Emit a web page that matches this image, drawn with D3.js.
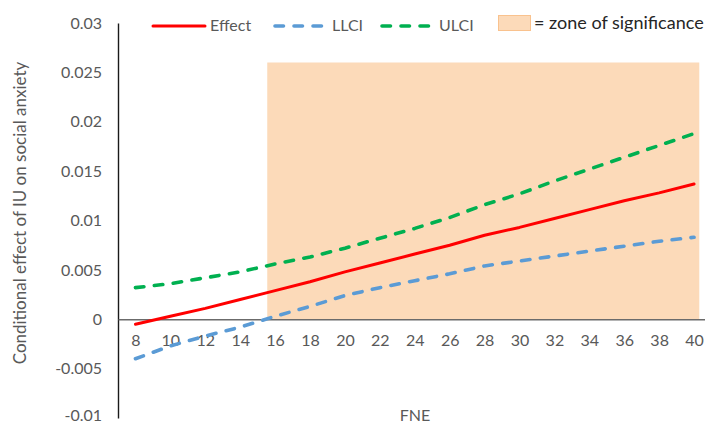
<!DOCTYPE html>
<html>
<head>
<meta charset="utf-8">
<script src="https://cdn.jsdelivr.net/npm/d3@7/dist/d3.min.js"></script>
<style>
  html, body { margin: 0; padding: 0; background: #fff; }
  svg { display: block; font-family: Lato, "Open Sans", sans-serif; }
</style>
</head>
<body>
<svg id="chart" width="705" height="425"></svg>
<script>
// Johnson-Neyman output: conditional effect of IU across FNE
const fne    = [8, 10, 12, 14, 16, 18, 20, 22, 24, 26, 28, 30, 32, 34, 36, 38, 40];
const effect = [-0.0005, 0.0003, 0.0011, 0.0020, 0.0029, 0.0038, 0.0048, 0.0057, 0.0066, 0.0075, 0.0085, 0.0093, 0.0102, 0.0111, 0.0120, 0.0128, 0.0137];
const llci   = [-0.0040, -0.0027, -0.0017, -0.0008, 0.0003, 0.0013, 0.0024, 0.0032, 0.0039, 0.0046, 0.0054, 0.0059, 0.0064, 0.0069, 0.0074, 0.0079, 0.0083];
const ulci   = [0.0032, 0.0036, 0.0042, 0.0048, 0.0056, 0.0063, 0.0072, 0.0082, 0.0092, 0.0103, 0.0116, 0.0127, 0.0140, 0.0152, 0.0164, 0.0176, 0.0188];

// region of significance (LLCI above zero)
const zoneX = [15.55, 40.3];
const zoneY = [0, 0.026];

const yTicks = [0.03, 0.025, 0.02, 0.015, 0.01, 0.005, 0, -0.005, -0.01];
const yTickLabels = ["0.03", "0.025", "0.02", "0.015", "0.01", "0.005", "0", "-0.005", "-0.01"];
const xTicks = [8, 10, 12, 14, 16, 18, 20, 22, 24, 26, 28, 30, 32, 34, 36, 38, 40];

const series = [
  { name: "Effect", values: effect, color: "#ff0000", dash: null, width: 3 },
  { name: "LLCI",   values: llci,   color: "#5b9bd5", dash: "8.5,10.5", width: 3.6 },
  { name: "ULCI",   values: ulci,   color: "#00b050", dash: "8.5,10.5", width: 3.6 }
];

const svg = d3.select("#chart");
const x = d3.scaleLinear().domain([7, 41]).range([118, 711.5]);
const y = d3.scaleLinear().domain([-0.01, 0.03]).range([418, 23]);

const textGray = "#595959";

// shaded zone
svg.append("rect")
  .attr("x", x(zoneX[0]))
  .attr("y", y(zoneY[1]))
  .attr("width", x(zoneX[1]) - x(zoneX[0]))
  .attr("height", y(zoneY[0]) - y(zoneY[1]))
  .attr("fill", "#fcdab9");

// y axis
const yAxis = d3.axisLeft(y)
  .tickValues(yTicks)
  .tickFormat((d, i) => yTickLabels[i])
  .tickSize(0)
  .tickPadding(16);
const gy = svg.append("g").attr("transform", `translate(${x(7)},0)`).call(yAxis);
gy.select(".domain").attr("stroke", "#1a1a1a").attr("stroke-width", 1.4);
gy.selectAll("text").attr("fill", textGray).attr("font-size", 16).attr("font-family", "Lato, sans-serif");
// keep the lowest label inside the canvas
gy.selectAll(".tick").filter(d => d === -0.01).select("text").attr("dy", "0.18em");

// x axis on the zero line
const xAxis = d3.axisBottom(x)
  .tickValues(xTicks)
  .tickFormat(d3.format("d"))
  .tickSize(0)
  .tickPadding(15);
const gx = svg.append("g").attr("transform", `translate(0,${y(0)})`).call(xAxis);
gx.select(".domain").attr("stroke", "#6b6b6b").attr("stroke-width", 1.4);
gx.selectAll("text").attr("fill", textGray).attr("font-size", 16).attr("font-family", "Lato, sans-serif");

// series lines
const line = d3.line()
  .x((d, i) => x(fne[i]))
  .y(d => y(d));

series.forEach(s => {
  svg.append("path")
    .datum(s.values)
    .attr("d", line)
    .attr("fill", "none")
    .attr("stroke", s.color)
    .attr("stroke-width", s.width)
    .attr("stroke-linecap", "round")
    .attr("stroke-linejoin", "round")
    .attr("stroke-dasharray", s.dash);
});

// axis titles
svg.append("text")
  .attr("transform", "translate(26,213) rotate(-90)")
  .attr("text-anchor", "middle")
  .attr("fill", textGray)
  .attr("font-size", 17)
  .text("Conditional effect of IU on social anxiety");

svg.append("text")
  .attr("x", 415)
  .attr("y", 421)
  .attr("text-anchor", "middle")
  .attr("fill", textGray)
  .attr("font-size", 16)
  .text("FNE");

// legend
const legendPos = [
  { x1: 153, x2: 205, tx: 210 },
  { x1: 275, x2: 325, tx: 332 },
  { x1: 382, x2: 433, tx: 439 }
];
series.forEach((s, i) => {
  const p = legendPos[i];
  svg.append("line")
    .attr("x1", p.x1).attr("x2", p.x2)
    .attr("y1", 26).attr("y2", 26)
    .attr("stroke", s.color)
    .attr("stroke-width", s.width)
    .attr("stroke-linecap", "round")
    .attr("stroke-dasharray", s.dash);
  svg.append("text")
    .attr("x", p.tx).attr("y", 31)
    .attr("fill", textGray)
    .attr("font-size", 16)
    .text(s.name);
});

svg.append("rect")
  .attr("x", 498.5).attr("y", 15.5)
  .attr("width", 32).attr("height", 15)
  .attr("fill", "#fcdab9")
  .attr("stroke", "#f9c28e")
  .attr("stroke-width", 1);
svg.append("text")
  .attr("x", 534).attr("y", 29)
  .attr("fill", "#262626")
  .attr("font-size", 18)
  .text("= zone of significance");
</script>
</body>
</html>
